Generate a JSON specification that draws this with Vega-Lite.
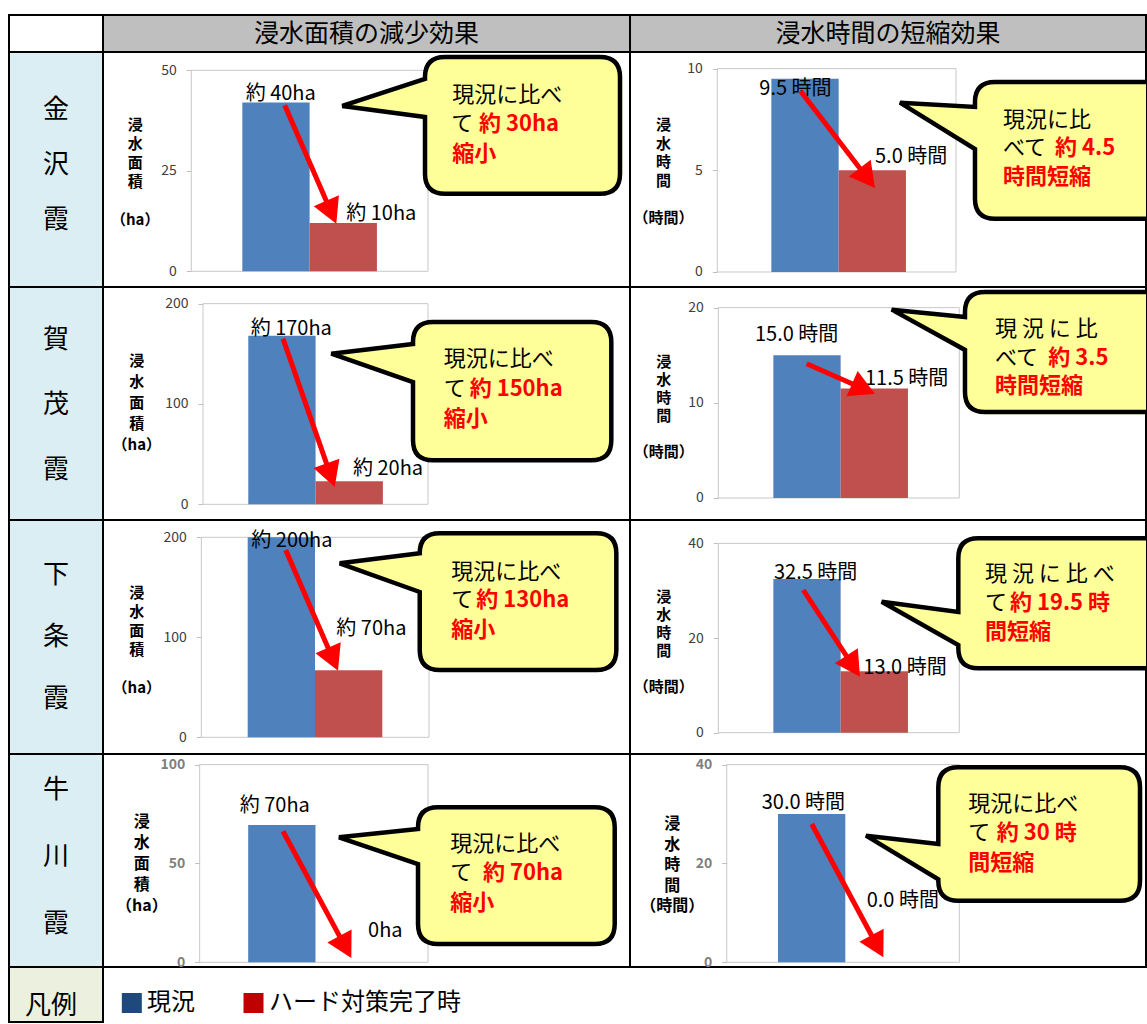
{
"$schema": "https://vega.github.io/schema/vega-lite/v6.json",
"padding": {"left": 8, "top": 14, "right": 0, "bottom": 0},
"background": "white",
"datasets": {"bars": [
{"region":"金沢霞","metric":"浸水面積","scenario":"現況","value":42,"label":"約 40ha"},
{"region":"金沢霞","metric":"浸水面積","scenario":"ハード対策完了時","value":12,"label":"約 10ha"},
{"region":"金沢霞","metric":"浸水時間","scenario":"現況","value":9.5,"label":"9.5 時間"},
{"region":"金沢霞","metric":"浸水時間","scenario":"ハード対策完了時","value":5.0,"label":"5.0 時間"},
{"region":"賀茂霞","metric":"浸水面積","scenario":"現況","value":168,"label":"約 170ha"},
{"region":"賀茂霞","metric":"浸水面積","scenario":"ハード対策完了時","value":23,"label":"約 20ha"},
{"region":"賀茂霞","metric":"浸水時間","scenario":"現況","value":15.0,"label":"15.0 時間"},
{"region":"賀茂霞","metric":"浸水時間","scenario":"ハード対策完了時","value":11.5,"label":"11.5 時間"},
{"region":"下条霞","metric":"浸水面積","scenario":"現況","value":200,"label":"約 200ha"},
{"region":"下条霞","metric":"浸水面積","scenario":"ハード対策完了時","value":67,"label":"約 70ha"},
{"region":"下条霞","metric":"浸水時間","scenario":"現況","value":32.5,"label":"32.5 時間"},
{"region":"下条霞","metric":"浸水時間","scenario":"ハード対策完了時","value":13.0,"label":"13.0 時間"},
{"region":"牛川霞","metric":"浸水面積","scenario":"現況","value":69.5,"label":"約 70ha"},
{"region":"牛川霞","metric":"浸水面積","scenario":"ハード対策完了時","value":0,"label":"0ha"},
{"region":"牛川霞","metric":"浸水時間","scenario":"現況","value":30.0,"label":"30.0 時間"},
{"region":"牛川霞","metric":"浸水時間","scenario":"ハード対策完了時","value":0.0,"label":"0.0 時間"}
]},
"columns": 3,
"spacing": 0,
"bounds": "flush",
"concat": [
 {"width":94,"height":37,"data":{"values":[{}]},"mark":{"type":"text","text":" "},"encoding":{"x":{"datum":0.5,"type":"quantitative","scale":{"domain":[0,1]},"axis":null},"y":{"datum":0.5,"type":"quantitative","scale":{"domain":[0,1]},"axis":null}}},
 {"width":527,"height":37,"view":{"fill":"#BFBFBF"},"data":{"values":[{"title":"浸水面積の減少効果"}]},"mark":{"type":"text","fontSize":25,"color":"#000000"},"encoding":{"x":{"datum":0.5,"type":"quantitative","scale":{"domain":[0,1]},"axis":null},"y":{"datum":0.5,"type":"quantitative","scale":{"domain":[0,1]},"axis":null},"text":{"field":"title"}}},
 {"width":516,"height":37,"view":{"fill":"#BFBFBF"},"data":{"values":[{"title":"浸水時間の短縮効果"}]},"mark":{"type":"text","fontSize":25,"color":"#000000"},"encoding":{"x":{"datum":0.5,"type":"quantitative","scale":{"domain":[0,1]},"axis":null},"y":{"datum":0.5,"type":"quantitative","scale":{"domain":[0,1]},"axis":null},"text":{"field":"title"}}},

 {"width":94,"height":235,"view":{"fill":"#DAEEF3"},"data":{"values":[{}]},"mark":{"type":"text","text":["金","沢","霞"],"fontSize":26,"lineHeight":55,"baseline":"middle","color":"#000000"},"encoding":{"x":{"datum":0.5,"type":"quantitative","scale":{"domain":[0,1]},"axis":null},"y":{"datum":0.753,"type":"quantitative","scale":{"domain":[0,1]},"axis":null}}},
 {"width":527,"height":235,"resolve":{"scale":{"x":"independent"}},"layer":[
  {"data":{"values":[{}]},"mark":{"type":"rect","filled":false,"color":"#C8C8C8","strokeWidth":1},"encoding":{"x":{"datum":-0.758,"type":"quantitative","scale":{"domain":[-2.070,5.761],"nice":false,"zero":false},"axis":null},"x2":{"datum":2.759},"y":{"datum":0,"type":"quantitative"},"y2":{"datum":50}}},
  {"data":{"name":"bars"},"transform":[{"filter":"datum.region === '金沢霞' && datum.metric === '浸水面積'"}],"mark":{"type":"bar"},"encoding":{
   "x":{"field":"metric","type":"nominal","scale":{"paddingInner":0,"paddingOuter":1,"align":0.3381},"axis":null},
   "xOffset":{"field":"scenario","type":"nominal","sort":["現況","ハード対策完了時"],"scale":{"domain":["現況","ハード対策完了時"],"paddingInner":0,"paddingOuter":0.3051}},
   "y":{"field":"value","type":"quantitative","stack":null,"scale":{"domain":[-3.91,54.55],"nice":false,"zero":false},"axis":{"offset":-88.3,"values":[0,25,50],"domain":false,"grid":false,"tickSize":5,"tickColor":"#BFBFBF","tickWidth":1,"labelPadding":10,"labelFontSize":14,"labelColor":"#404040","title":["浸","水","面","積","\u200b","（ha）"],"titleAngle":0,"titleAlign":"center","titleBaseline":"top","titleX":-56.6,"titleY":65,"titleLineHeight":19,"titleFontSize":15,"titleFontWeight":"bold","titleColor":"#000000"}},
   "color":{"field":"scenario","type":"nominal","scale":{"domain":["現況","ハード対策完了時"],"range":["#4F81BD","#C0504D"]},"legend":null}}},
  {"data":{"values":[{}]},"layer":[
   {"data":{"name":"bars"},"transform":[{"filter":"datum.region === '金沢霞' && datum.metric === '浸水面積' && datum.scenario === '現況'"}],"mark":{"type":"text","align":"left","baseline":"alphabetic","fontSize":20,"color":"#000000"},"encoding":{"x":{"datum":0.05,"type":"quantitative","scale":{"domain":[-2.070,5.761],"nice":false,"zero":false},"axis":null},"y":{"datum":42.54,"type":"quantitative"},"text":{"field":"label"}}},
   {"data":{"name":"bars"},"transform":[{"filter":"datum.region === '金沢霞' && datum.metric === '浸水面積' && datum.scenario === 'ハード対策完了時'"}],"mark":{"type":"text","align":"left","baseline":"alphabetic","fontSize":20,"color":"#000000"},"encoding":{"x":{"datum":1.545,"type":"quantitative","scale":{"domain":[-2.070,5.761]},"axis":null},"y":{"datum":12.69,"type":"quantitative"},"text":{"field":"label"}}},
   {"mark":{"type":"rule","color":"#FF0000","strokeWidth":5},"encoding":{"x":{"datum":0.630,"type":"quantitative","scale":{"domain":[-2.070,5.761]},"axis":null},"y":{"datum":41.29,"type":"quantitative"},"x2":{"datum":1.325},"y2":{"datum":14.58}}},
   {"mark":{"type":"point","shape":"M0,0L-1.1,2L1.1,2Z","size":625,"filled":true,"color":"#FF0000","opacity":1,"strokeWidth":0,"angle":156.45},"encoding":{"x":{"datum":1.397,"type":"quantitative","scale":{"domain":[-2.070,5.761]},"axis":null},"y":{"datum":11.84,"type":"quantitative"}}},
   {"mark":{"type":"point","shape":"M20,0H175Q195,0 195,20V116.7Q195,136.7 175,136.7H20Q0,136.7 0,116.7V60L-82.7,49L0,22V20Q0,0 20,0Z","size":4,"filled":true,"fill":"#FFFF99","stroke":"#000000","strokeWidth":4.5,"opacity":1},"encoding":{"x":{"datum":2.715,"type":"quantitative","scale":{"domain":[-2.070,5.761]},"axis":null},"y":{"datum":53.31,"type":"quantitative"}}},
   {"mark":{"type":"text","text":"現況に比べ","align":"left","baseline":"middle","fontSize":22,"color":"#000000"},"encoding":{"x":{"datum":3.120,"type":"quantitative","scale":{"domain":[-2.070,5.761]},"axis":null},"y":{"datum":43.86,"type":"quantitative"}}},
   {"mark":{"type":"text","text":"て","align":"left","baseline":"middle","fontSize":22,"color":"#000000"},"encoding":{"x":{"datum":3.105,"type":"quantitative","scale":{"domain":[-2.070,5.761]},"axis":null},"y":{"datum":36.57,"type":"quantitative"}}},
   {"mark":{"type":"text","text":"約 30ha","align":"left","baseline":"middle","fontSize":22,"fontWeight":"bold","color":"#FF0000"},"encoding":{"x":{"datum":3.517,"type":"quantitative","scale":{"domain":[-2.070,5.761]},"axis":null},"y":{"datum":36.57,"type":"quantitative"}}},
   {"mark":{"type":"text","text":"縮小","align":"left","baseline":"middle","fontSize":22,"fontWeight":"bold","color":"#FF0000"},"encoding":{"x":{"datum":3.120,"type":"quantitative","scale":{"domain":[-2.070,5.761]},"axis":null},"y":{"datum":29.30,"type":"quantitative"}}}
  ]}
 ]},
 {"width":516,"height":235,"resolve":{"scale":{"x":"independent"}},"layer":[
  {"data":{"values":[{}]},"mark":{"type":"rect","filled":false,"color":"#C8C8C8","strokeWidth":1},"encoding":{"x":{"datum":-0.750,"type":"quantitative","scale":{"domain":[-2.028,5.527],"nice":false,"zero":false},"axis":null},"x2":{"datum":2.745},"y":{"datum":0,"type":"quantitative"},"y2":{"datum":10}}},
  {"data":{"name":"bars"},"transform":[{"filter":"datum.region === '金沢霞' && datum.metric === '浸水時間'"}],"mark":{"type":"bar"},"encoding":{
   "x":{"field":"metric","type":"nominal","scale":{"paddingInner":0,"paddingOuter":1,"align":0.3512},"axis":null},
   "xOffset":{"field":"scenario","type":"nominal","sort":["現況","ハード対策完了時"],"scale":{"domain":["現況","ハード対策完了時"],"paddingInner":0,"paddingOuter":0.2592}},
   "y":{"field":"value","type":"quantitative","stack":null,"scale":{"domain":[-0.738,10.82],"nice":false,"zero":false},"axis":{"offset":-87.3,"values":[0,5,10],"domain":false,"grid":false,"tickSize":5,"tickColor":"#BFBFBF","tickWidth":1,"labelPadding":10,"labelFontSize":14,"labelColor":"#404040","title":["浸","水","時","間","\u200b","（時間）"],"titleAngle":0,"titleAlign":"center","titleBaseline":"top","titleX":-54.3,"titleY":65.5,"titleLineHeight":18.5,"titleFontSize":15,"titleFontWeight":"bold","titleColor":"#000000"}},
   "color":{"field":"scenario","type":"nominal","scale":{"domain":["現況","ハード対策完了時"],"range":["#4F81BD","#C0504D"]},"legend":null}}},
  {"data":{"values":[{}]},"layer":[
   {"data":{"name":"bars"},"transform":[{"filter":"datum.region === '金沢霞' && datum.metric === '浸水時間' && datum.scenario === '現況'"}],"mark":{"type":"text","align":"left","baseline":"alphabetic","fontSize":20,"color":"#000000"},"encoding":{"x":{"datum":-0.135,"type":"quantitative","scale":{"domain":[-2.028,5.527],"nice":false,"zero":false},"axis":null},"y":{"datum":8.72,"type":"quantitative"},"text":{"field":"label"}}},
   {"data":{"name":"bars"},"transform":[{"filter":"datum.region === '金沢霞' && datum.metric === '浸水時間' && datum.scenario === 'ハード対策完了時'"}],"mark":{"type":"text","align":"left","baseline":"alphabetic","fontSize":20,"color":"#000000"},"encoding":{"x":{"datum":1.559,"type":"quantitative","scale":{"domain":[-2.028,5.527]},"axis":null},"y":{"datum":5.36,"type":"quantitative"},"text":{"field":"label"}}},
   {"mark":{"type":"rule","color":"#FF0000","strokeWidth":5},"encoding":{"x":{"datum":0.471,"type":"quantitative","scale":{"domain":[-2.028,5.527]},"axis":null},"y":{"datum":8.888,"type":"quantitative"},"x2":{"datum":1.452},"y2":{"datum":4.599}}},
   {"mark":{"type":"point","shape":"M0,0L-1.1,2L1.1,2Z","size":625,"filled":true,"color":"#FF0000","opacity":1,"strokeWidth":0,"angle":142.46},"encoding":{"x":{"datum":1.559,"type":"quantitative","scale":{"domain":[-2.028,5.527]},"axis":null},"y":{"datum":4.132,"type":"quantitative"}}},
   {"mark":{"type":"point","clip":true,"shape":"M20,0H175Q195,0 195,20V116.7Q195,136.7 175,136.7H20Q0,136.7 0,116.7V67L-75,20.7L0,25V20Q0,0 20,0Z","size":4,"filled":true,"fill":"#FFFF99","stroke":"#000000","strokeWidth":4.5,"opacity":1},"encoding":{"x":{"datum":3.023,"type":"quantitative","scale":{"domain":[-2.028,5.527]},"axis":null},"y":{"datum":9.346,"type":"quantitative"}}},
   {"mark":{"type":"text","text":"現況に比","align":"left","baseline":"middle","fontSize":22,"color":"#000000"},"encoding":{"x":{"datum":3.433,"type":"quantitative","scale":{"domain":[-2.028,5.527]},"axis":null},"y":{"datum":7.477,"type":"quantitative"}}},
   {"mark":{"type":"text","text":"べて","align":"left","baseline":"middle","fontSize":22,"color":"#000000"},"encoding":{"x":{"datum":3.433,"type":"quantitative","scale":{"domain":[-2.028,5.527]},"axis":null},"y":{"datum":6.080,"type":"quantitative"}}},
   {"mark":{"type":"text","text":"約 4.5","align":"left","baseline":"middle","fontSize":22,"fontWeight":"bold","color":"#FF0000"},"encoding":{"x":{"datum":4.196,"type":"quantitative","scale":{"domain":[-2.028,5.527]},"axis":null},"y":{"datum":6.080,"type":"quantitative"}}},
   {"mark":{"type":"text","text":"時間短縮","align":"left","baseline":"middle","fontSize":22,"fontWeight":"bold","color":"#FF0000"},"encoding":{"x":{"datum":3.433,"type":"quantitative","scale":{"domain":[-2.028,5.527]},"axis":null},"y":{"datum":4.648,"type":"quantitative"}}}
  ]}
 ]},

 {"width":94,"height":233,"view":{"fill":"#DAEEF3"},"data":{"values":[{}]},"mark":{"type":"text","text":["賀","茂","霞"],"fontSize":26,"lineHeight":65,"baseline":"middle","color":"#000000"},"encoding":{"x":{"datum":0.5,"type":"quantitative","scale":{"domain":[0,1]},"axis":null},"y":{"datum":0.7725,"type":"quantitative","scale":{"domain":[0,1]},"axis":null}}},
 {"width":527,"height":233,"resolve":{"scale":{"x":"independent"}},"layer":[
  {"data":{"values":[{}]},"mark":{"type":"rect","filled":false,"color":"#C8C8C8","strokeWidth":1},"encoding":{"x":{"datum":-0.743,"type":"quantitative","scale":{"domain":[-2.291,5.867],"nice":false,"zero":false},"axis":null},"x2":{"datum":2.740},"y":{"datum":0,"type":"quantitative"},"y2":{"datum":200}}},
  {"data":{"name":"bars"},"transform":[{"filter":"datum.region === '賀茂霞' && datum.metric === '浸水面積'"}],"mark":{"type":"bar"},"encoding":{
   "x":{"field":"metric","type":"nominal","scale":{"paddingInner":0,"paddingOuter":1,"align":0.3551},"axis":null},
   "xOffset":{"field":"scenario","type":"nominal","sort":["現況","ハード対策完了時"],"scale":{"domain":["現況","ハード対策完了時"],"paddingInner":0,"paddingOuter":0.3597}},
   "y":{"field":"value","type":"quantitative","stack":null,"scale":{"domain":[-15.65,216.6],"nice":false,"zero":false},"axis":{"offset":-100,"values":[0,100,200],"domain":false,"grid":false,"tickSize":5,"tickColor":"#BFBFBF","tickWidth":1,"labelPadding":10,"labelFontSize":14,"labelColor":"#404040","title":["浸","水","面","積","（ha）"],"titleAngle":0,"titleAlign":"center","titleBaseline":"top","titleX":-66.7,"titleY":66,"titleLineHeight":21,"titleFontSize":15,"titleFontWeight":"bold","titleColor":"#000000"}},
   "color":{"field":"scenario","type":"nominal","scale":{"domain":["現況","ハード対策完了時"],"range":["#4F81BD","#C0504D"]},"legend":null}}},
  {"data":{"values":[{}]},"layer":[
   {"data":{"name":"bars"},"transform":[{"filter":"datum.region === '賀茂霞' && datum.metric === '浸水面積' && datum.scenario === '現況'"}],"mark":{"type":"text","align":"left","baseline":"alphabetic","fontSize":20,"color":"#000000"},"encoding":{"x":{"datum":-0.005,"type":"quantitative","scale":{"domain":[-2.291,5.867],"nice":false,"zero":false},"axis":null},"y":{"datum":169.0,"type":"quantitative"},"text":{"field":"label"}}},
   {"data":{"name":"bars"},"transform":[{"filter":"datum.region === '賀茂霞' && datum.metric === '浸水面積' && datum.scenario === 'ハード対策完了時'"}],"mark":{"type":"text","align":"left","baseline":"alphabetic","fontSize":20,"color":"#000000"},"encoding":{"x":{"datum":1.579,"type":"quantitative","scale":{"domain":[-2.291,5.867]},"axis":null},"y":{"datum":28.9,"type":"quantitative"},"text":{"field":"label"}}},
   {"mark":{"type":"rule","color":"#FF0000","strokeWidth":5},"encoding":{"x":{"datum":0.495,"type":"quantitative","scale":{"domain":[-2.291,5.867]},"axis":null},"y":{"datum":165.1,"type":"quantitative"},"x2":{"datum":1.2345},"y2":{"datum":28.54}}},
   {"mark":{"type":"point","shape":"M0,0L-1.1,2L1.1,2Z","size":625,"filled":true,"color":"#FF0000","opacity":1,"strokeWidth":0,"angle":160.78},"encoding":{"x":{"datum":1.296,"type":"quantitative","scale":{"domain":[-2.291,5.867]},"axis":null},"y":{"datum":17.24,"type":"quantitative"}}},
   {"mark":{"type":"point","shape":"M20,0H178.3Q198.3,0 198.3,20V118.3Q198.3,138.3 178.3,138.3H20Q0,138.3 0,118.3V60L-81.7,31.7L0,22V20Q0,0 20,0Z","size":4,"filled":true,"fill":"#FFFF99","stroke":"#000000","strokeWidth":4.5,"opacity":1},"encoding":{"x":{"datum":2.508,"type":"quantitative","scale":{"domain":[-2.291,5.867]},"axis":null},"y":{"datum":181.7,"type":"quantitative"}}},
   {"mark":{"type":"text","text":"現況に比べ","align":"left","baseline":"middle","fontSize":22,"color":"#000000"},"encoding":{"x":{"datum":2.983,"type":"quantitative","scale":{"domain":[-2.291,5.867]},"axis":null},"y":{"datum":144.5,"type":"quantitative"}}},
   {"mark":{"type":"text","text":"て","align":"left","baseline":"middle","fontSize":22,"color":"#000000"},"encoding":{"x":{"datum":2.983,"type":"quantitative","scale":{"domain":[-2.291,5.867]},"axis":null},"y":{"datum":115.4,"type":"quantitative"}}},
   {"mark":{"type":"text","text":"約 150ha","align":"left","baseline":"middle","fontSize":22,"fontWeight":"bold","color":"#FF0000"},"encoding":{"x":{"datum":3.385,"type":"quantitative","scale":{"domain":[-2.291,5.867]},"axis":null},"y":{"datum":115.4,"type":"quantitative"}}},
   {"mark":{"type":"text","text":"縮小","align":"left","baseline":"middle","fontSize":22,"fontWeight":"bold","color":"#FF0000"},"encoding":{"x":{"datum":2.983,"type":"quantitative","scale":{"domain":[-2.291,5.867]},"axis":null},"y":{"datum":85.5,"type":"quantitative"}}}
  ]}
 ]},
 {"width":516,"height":233,"resolve":{"scale":{"x":"independent"}},"layer":[
  {"data":{"values":[{}]},"mark":{"type":"rect","filled":false,"color":"#C8C8C8","strokeWidth":1},"encoding":{"x":{"datum":-0.751,"type":"quantitative","scale":{"domain":[-2.035,5.465],"nice":false,"zero":false},"axis":null},"x2":{"datum":2.751},"y":{"datum":0,"type":"quantitative"},"y2":{"datum":20}}},
  {"data":{"name":"bars"},"transform":[{"filter":"datum.region === '賀茂霞' && datum.metric === '浸水時間'"}],"mark":{"type":"bar"},"encoding":{
   "x":{"field":"metric","type":"nominal","scale":{"paddingInner":0,"paddingOuter":1,"align":0.3570},"axis":null},
   "xOffset":{"field":"scenario","type":"nominal","sort":["現況","ハード対策完了時"],"scale":{"domain":["現況","ハード対策完了時"],"paddingInner":0,"paddingOuter":0.25}},
   "y":{"field":"value","type":"quantitative","stack":null,"scale":{"domain":[-2.312,22.17],"nice":false,"zero":false},"axis":{"offset":-88.3,"values":[0,10,20],"domain":false,"grid":false,"tickSize":5,"tickColor":"#BFBFBF","tickWidth":1,"labelPadding":10,"labelFontSize":14,"labelColor":"#404040","title":["浸","水","時","間","\u200b","（時間）"],"titleAngle":0,"titleAlign":"center","titleBaseline":"top","titleX":-55,"titleY":67.5,"titleLineHeight":18,"titleFontSize":15,"titleFontWeight":"bold","titleColor":"#000000"}},
   "color":{"field":"scenario","type":"nominal","scale":{"domain":["現況","ハード対策完了時"],"range":["#4F81BD","#C0504D"]},"legend":null}}},
  {"data":{"values":[{}]},"layer":[
   {"data":{"name":"bars"},"transform":[{"filter":"datum.region === '賀茂霞' && datum.metric === '浸水時間' && datum.scenario === '現況'"}],"mark":{"type":"text","align":"left","baseline":"alphabetic","fontSize":20,"color":"#000000"},"encoding":{"x":{"datum":-0.218,"type":"quantitative","scale":{"domain":[-2.035,5.465],"nice":false,"zero":false},"axis":null},"y":{"datum":16.47,"type":"quantitative"},"text":{"field":"label"}}},
   {"data":{"name":"bars"},"transform":[{"filter":"datum.region === '賀茂霞' && datum.metric === '浸水時間' && datum.scenario === 'ハード対策完了時'"}],"mark":{"type":"text","align":"left","baseline":"alphabetic","fontSize":20,"color":"#000000"},"encoding":{"x":{"datum":1.381,"type":"quantitative","scale":{"domain":[-2.035,5.465]},"axis":null},"y":{"datum":11.91,"type":"quantitative"},"text":{"field":"label"}}},
   {"mark":{"type":"rule","color":"#FF0000","strokeWidth":5},"encoding":{"x":{"datum":0.533,"type":"quantitative","scale":{"domain":[-2.035,5.465]},"axis":null},"y":{"datum":14.11,"type":"quantitative"},"x2":{"datum":1.366},"y2":{"datum":11.46}}},
   {"mark":{"type":"point","shape":"M0,0L-1.1,2L1.1,2Z","size":625,"filled":true,"color":"#FF0000","opacity":1,"strokeWidth":0,"angle":113.71},"encoding":{"x":{"datum":1.526,"type":"quantitative","scale":{"domain":[-2.035,5.465]},"axis":null},"y":{"datum":10.96,"type":"quantitative"}}},
   {"mark":{"type":"point","clip":true,"shape":"M20,0H185Q205,0 205,20V100Q205,120 185,120H20Q0,120 0,100V58L-73.3,17.7L0,25V20Q0,0 20,0Z","size":4,"filled":true,"fill":"#FFFF99","stroke":"#000000","strokeWidth":4.5,"opacity":1},"encoding":{"x":{"datum":2.834,"type":"quantitative","scale":{"domain":[-2.035,5.465]},"axis":null},"y":{"datum":21.65,"type":"quantitative"}}},
   {"mark":{"type":"text","text":"現 況 に 比","align":"left","baseline":"middle","fontSize":22,"color":"#000000"},"encoding":{"x":{"datum":3.270,"type":"quantitative","scale":{"domain":[-2.035,5.465]},"axis":null},"y":{"datum":17.73,"type":"quantitative"}}},
   {"mark":{"type":"text","text":"べて","align":"left","baseline":"middle","fontSize":22,"color":"#000000"},"encoding":{"x":{"datum":3.270,"type":"quantitative","scale":{"domain":[-2.035,5.465]},"axis":null},"y":{"datum":14.66,"type":"quantitative"}}},
   {"mark":{"type":"text","text":"約 3.5","align":"left","baseline":"middle","fontSize":22,"fontWeight":"bold","color":"#FF0000"},"encoding":{"x":{"datum":4.045,"type":"quantitative","scale":{"domain":[-2.035,5.465]},"axis":null},"y":{"datum":14.66,"type":"quantitative"}}},
   {"mark":{"type":"text","text":"時間短縮","align":"left","baseline":"middle","fontSize":22,"fontWeight":"bold","color":"#FF0000"},"encoding":{"x":{"datum":3.270,"type":"quantitative","scale":{"domain":[-2.035,5.465]},"axis":null},"y":{"datum":11.77,"type":"quantitative"}}}
  ]}
 ]},

 {"width":94,"height":234,"view":{"fill":"#DAEEF3"},"data":{"values":[{}]},"mark":{"type":"text","text":["下","条","霞"],"fontSize":26,"lineHeight":62,"baseline":"middle","color":"#000000"},"encoding":{"x":{"datum":0.5,"type":"quantitative","scale":{"domain":[0,1]},"axis":null},"y":{"datum":0.765,"type":"quantitative","scale":{"domain":[0,1]},"axis":null}}},
 {"width":527,"height":234,"resolve":{"scale":{"x":"independent"}},"layer":[
  {"data":{"values":[{}]},"mark":{"type":"rect","filled":false,"color":"#C8C8C8","strokeWidth":1},"encoding":{"x":{"datum":-0.749,"type":"quantitative","scale":{"domain":[-2.262,5.846],"nice":false,"zero":false},"axis":null},"x2":{"datum":2.754},"y":{"datum":0,"type":"quantitative"},"y2":{"datum":200}}},
  {"data":{"name":"bars"},"transform":[{"filter":"datum.region === '下条霞' && datum.metric === '浸水面積'"}],"mark":{"type":"bar"},"encoding":{
   "x":{"field":"metric","type":"nominal","scale":{"paddingInner":0,"paddingOuter":1,"align":0.3534},"axis":null},
   "xOffset":{"field":"scenario","type":"nominal","sort":["現況","ハード対策完了時"],"scale":{"domain":["現況","ハード対策完了時"],"paddingInner":0,"paddingOuter":0.3513}},
   "y":{"field":"value","type":"quantitative","stack":null,"scale":{"domain":[-16.7,217.3],"nice":false,"zero":false},"axis":{"offset":-98.3,"values":[0,100,200],"domain":false,"grid":false,"tickSize":5,"tickColor":"#BFBFBF","tickWidth":1,"labelPadding":10,"labelFontSize":14,"labelColor":"#404040","title":["浸","水","面","積","\u200b","（ha）"],"titleAngle":0,"titleAlign":"center","titleBaseline":"top","titleX":-65,"titleY":65.5,"titleLineHeight":19,"titleFontSize":15,"titleFontWeight":"bold","titleColor":"#000000"}},
   "color":{"field":"scenario","type":"nominal","scale":{"domain":["現況","ハード対策完了時"],"range":["#4F81BD","#C0504D"]},"legend":null}}},
  {"data":{"values":[{}]},"layer":[
   {"data":{"name":"bars"},"transform":[{"filter":"datum.region === '下条霞' && datum.metric === '浸水面積' && datum.scenario === '現況'"}],"mark":{"type":"text","align":"left","baseline":"alphabetic","fontSize":20,"color":"#000000"},"encoding":{"x":{"datum":0.02,"type":"quantitative","scale":{"domain":[-2.262,5.846],"nice":false,"zero":false},"axis":null},"y":{"datum":190.6,"type":"quantitative"},"text":{"field":"label"}}},
   {"data":{"name":"bars"},"transform":[{"filter":"datum.region === '下条霞' && datum.metric === '浸水面積' && datum.scenario === 'ハード対策完了時'"}],"mark":{"type":"text","align":"left","baseline":"alphabetic","fontSize":20,"color":"#000000"},"encoding":{"x":{"datum":1.328,"type":"quantitative","scale":{"domain":[-2.262,5.846]},"axis":null},"y":{"datum":102.3,"type":"quantitative"},"text":{"field":"label"}}},
   {"mark":{"type":"rule","color":"#FF0000","strokeWidth":5},"encoding":{"x":{"datum":0.549,"type":"quantitative","scale":{"domain":[-2.262,5.846]},"axis":null},"y":{"datum":187.3,"type":"quantitative"},"x2":{"datum":1.280},"y2":{"datum":77.6}}},
   {"mark":{"type":"point","shape":"M0,0L-1.1,2L1.1,2Z","size":625,"filled":true,"color":"#FF0000","opacity":1,"strokeWidth":0,"angle":156.57},"encoding":{"x":{"datum":1.354,"type":"quantitative","scale":{"domain":[-2.262,5.846]},"axis":null},"y":{"datum":66.6,"type":"quantitative"}}},
   {"mark":{"type":"point","shape":"M20,0H176.6Q196.6,0 196.6,20V116.7Q196.6,136.7 176.6,136.7H20Q0,136.7 0,116.7V58.7L-80,30L0,20Q0,0 20,0Z","size":4,"filled":true,"fill":"#FFFF99","stroke":"#000000","strokeWidth":4.5,"opacity":1},"encoding":{"x":{"datum":2.611,"type":"quantitative","scale":{"domain":[-2.262,5.846]},"axis":null},"y":{"datum":204,"type":"quantitative"}}},
   {"mark":{"type":"text","text":"現況に比べ","align":"left","baseline":"middle","fontSize":22,"color":"#000000"},"encoding":{"x":{"datum":3.097,"type":"quantitative","scale":{"domain":[-2.262,5.846]},"axis":null},"y":{"datum":165.8,"type":"quantitative"}}},
   {"mark":{"type":"text","text":"て","align":"left","baseline":"middle","fontSize":22,"color":"#000000"},"encoding":{"x":{"datum":3.097,"type":"quantitative","scale":{"domain":[-2.262,5.846]},"axis":null},"y":{"datum":137.8,"type":"quantitative"}}},
   {"mark":{"type":"text","text":"約 130ha","align":"left","baseline":"middle","fontSize":22,"fontWeight":"bold","color":"#FF0000"},"encoding":{"x":{"datum":3.482,"type":"quantitative","scale":{"domain":[-2.262,5.846]},"axis":null},"y":{"datum":137.8,"type":"quantitative"}}},
   {"mark":{"type":"text","text":"縮小","align":"left","baseline":"middle","fontSize":22,"fontWeight":"bold","color":"#FF0000"},"encoding":{"x":{"datum":3.097,"type":"quantitative","scale":{"domain":[-2.262,5.846]},"axis":null},"y":{"datum":107.8,"type":"quantitative"}}}
  ]}
 ]},
 {"width":516,"height":234,"resolve":{"scale":{"x":"independent"}},"layer":[
  {"data":{"values":[{}]},"mark":{"type":"rect","filled":false,"color":"#C8C8C8","strokeWidth":1},"encoding":{"x":{"datum":-0.751,"type":"quantitative","scale":{"domain":[-2.035,5.465],"nice":false,"zero":false},"axis":null},"x2":{"datum":2.751},"y":{"datum":0,"type":"quantitative"},"y2":{"datum":40}}},
  {"data":{"name":"bars"},"transform":[{"filter":"datum.region === '下条霞' && datum.metric === '浸水時間'"}],"mark":{"type":"bar"},"encoding":{
   "x":{"field":"metric","type":"nominal","scale":{"paddingInner":0,"paddingOuter":1,"align":0.3570},"axis":null},
   "xOffset":{"field":"scenario","type":"nominal","sort":["現況","ハード対策完了時"],"scale":{"domain":["現況","ハード対策完了時"],"paddingInner":0,"paddingOuter":0.25}},
   "y":{"field":"value","type":"quantitative","stack":null,"scale":{"domain":[-4.50,44.94],"nice":false,"zero":false},"axis":{"offset":-88.3,"values":[0,20,40],"domain":false,"grid":false,"tickSize":5,"tickColor":"#BFBFBF","tickWidth":1,"labelPadding":10,"labelFontSize":14,"labelColor":"#404040","title":["浸","水","時","間","\u200b","（時間）"],"titleAngle":0,"titleAlign":"center","titleBaseline":"top","titleX":-55,"titleY":69.5,"titleLineHeight":18,"titleFontSize":15,"titleFontWeight":"bold","titleColor":"#000000"}},
   "color":{"field":"scenario","type":"nominal","scale":{"domain":["現況","ハード対策完了時"],"range":["#4F81BD","#C0504D"]},"legend":null}}},
  {"data":{"values":[{}]},"layer":[
   {"data":{"name":"bars"},"transform":[{"filter":"datum.region === '下条霞' && datum.metric === '浸水時間' && datum.scenario === '現況'"}],"mark":{"type":"text","align":"left","baseline":"alphabetic","fontSize":20,"color":"#000000"},"encoding":{"x":{"datum":0.058,"type":"quantitative","scale":{"domain":[-2.035,5.465],"nice":false,"zero":false},"axis":null},"y":{"datum":32.41,"type":"quantitative"},"text":{"field":"label"}}},
   {"data":{"name":"bars"},"transform":[{"filter":"datum.region === '下条霞' && datum.metric === '浸水時間' && datum.scenario === 'ハード対策完了時'"}],"mark":{"type":"text","align":"left","baseline":"alphabetic","fontSize":20,"color":"#000000"},"encoding":{"x":{"datum":1.356,"type":"quantitative","scale":{"domain":[-2.035,5.465]},"axis":null},"y":{"datum":12.40,"type":"quantitative"},"text":{"field":"label"}}},
   {"mark":{"type":"rule","color":"#FF0000","strokeWidth":5},"encoding":{"x":{"datum":0.484,"type":"quantitative","scale":{"domain":[-2.035,5.465]},"axis":null},"y":{"datum":30.15,"type":"quantitative"},"x2":{"datum":1.212},"y2":{"datum":13.94}}},
   {"mark":{"type":"point","shape":"M0,0L-1.1,2L1.1,2Z","size":625,"filled":true,"color":"#FF0000","opacity":1,"strokeWidth":0,"angle":146.82},"encoding":{"x":{"datum":1.308,"type":"quantitative","scale":{"domain":[-2.035,5.465]},"axis":null},"y":{"datum":11.83,"type":"quantitative"}}},
   {"mark":{"type":"point","clip":true,"shape":"M20,0H191.7Q211.7,0 211.7,20V110Q211.7,130 191.7,130H20Q0,130 0,110V106.7L-76.6,63.4L0,73.7V20Q0,0 20,0Z","size":4,"filled":true,"fill":"#FFFF99","stroke":"#000000","strokeWidth":4.5,"opacity":1},"encoding":{"x":{"datum":2.737,"type":"quantitative","scale":{"domain":[-2.035,5.465]},"axis":null},"y":{"datum":41.07,"type":"quantitative"}}},
   {"mark":{"type":"text","text":"現 況 に 比 べ","align":"left","baseline":"middle","fontSize":22,"color":"#000000"},"encoding":{"x":{"datum":3.125,"type":"quantitative","scale":{"domain":[-2.035,5.465]},"axis":null},"y":{"datum":33.53,"type":"quantitative"}}},
   {"mark":{"type":"text","text":"て","align":"left","baseline":"middle","fontSize":22,"color":"#000000"},"encoding":{"x":{"datum":3.125,"type":"quantitative","scale":{"domain":[-2.035,5.465]},"axis":null},"y":{"datum":27.36,"type":"quantitative"}}},
   {"mark":{"type":"text","text":"約 19.5 時","align":"left","baseline":"middle","fontSize":22,"fontWeight":"bold","color":"#FF0000"},"encoding":{"x":{"datum":3.488,"type":"quantitative","scale":{"domain":[-2.035,5.465]},"axis":null},"y":{"datum":27.36,"type":"quantitative"}}},
   {"mark":{"type":"text","text":"間短縮","align":"left","baseline":"middle","fontSize":22,"fontWeight":"bold","color":"#FF0000"},"encoding":{"x":{"datum":3.125,"type":"quantitative","scale":{"domain":[-2.035,5.465]},"axis":null},"y":{"datum":21.38,"type":"quantitative"}}}
  ]}
 ]},

 {"width":94,"height":213,"view":{"fill":"#DAEEF3"},"data":{"values":[{}]},"mark":{"type":"text","text":["牛","川","霞"],"fontSize":26,"lineHeight":67,"baseline":"middle","color":"#000000"},"encoding":{"x":{"datum":0.5,"type":"quantitative","scale":{"domain":[0,1]},"axis":null},"y":{"datum":0.831,"type":"quantitative","scale":{"domain":[0,1]},"axis":null}}},
 {"width":527,"height":213,"resolve":{"scale":{"x":"independent"}},"layer":[
  {"data":{"values":[{}]},"mark":{"type":"rect","filled":false,"color":"#C8C8C8","strokeWidth":1},"encoding":{"x":{"datum":-0.782,"type":"quantitative","scale":{"domain":[-2.269,5.838],"nice":false,"zero":false},"axis":null},"x2":{"datum":2.731},"y":{"datum":0,"type":"quantitative"},"y2":{"datum":100}}},
  {"data":{"name":"bars"},"transform":[{"filter":"datum.region === '牛川霞' && datum.metric === '浸水面積'"}],"mark":{"type":"bar"},"encoding":{
   "x":{"field":"metric","type":"nominal","scale":{"paddingInner":0,"paddingOuter":1,"align":0.3548},"axis":null},
   "xOffset":{"field":"scenario","type":"nominal","sort":["現況","ハード対策完了時"],"scale":{"domain":["現況","ハード対策完了時"],"paddingInner":0,"paddingOuter":0.3513}},
   "y":{"field":"value","type":"quantitative","stack":null,"scale":{"domain":[-2.377,105.36],"nice":false,"zero":false},"axis":{"offset":-96.7,"values":[0,50,100],"domain":false,"grid":false,"tickSize":5,"tickColor":"#BFBFBF","tickWidth":1,"labelPadding":10,"labelFontSize":14,"labelFontWeight":"bold","labelColor":"#7F7F7F","title":["浸","水","面","積","（ha）"],"titleAngle":0,"titleAlign":"center","titleBaseline":"top","titleX":-58.4,"titleY":59.5,"titleLineHeight":21,"titleFontSize":16,"titleFontWeight":"bold","titleColor":"#000000"}},
   "color":{"field":"scenario","type":"nominal","scale":{"domain":["現況","ハード対策完了時"],"range":["#4F81BD","#C0504D"]},"legend":null}}},
  {"data":{"values":[{}]},"layer":[
   {"data":{"name":"bars"},"transform":[{"filter":"datum.region === '牛川霞' && datum.metric === '浸水面積' && datum.scenario === '現況'"}],"mark":{"type":"text","align":"left","baseline":"alphabetic","fontSize":20,"color":"#000000"},"encoding":{"x":{"datum":-0.166,"type":"quantitative","scale":{"domain":[-2.269,5.838],"nice":false,"zero":false},"axis":null},"y":{"datum":75.9,"type":"quantitative"},"text":{"field":"label"}}},
   {"data":{"name":"bars"},"transform":[{"filter":"datum.region === '牛川霞' && datum.metric === '浸水面積' && datum.scenario === 'ハード対策完了時'"}],"mark":{"type":"text","align":"left","baseline":"alphabetic","fontSize":20,"color":"#000000"},"encoding":{"x":{"datum":1.808,"type":"quantitative","scale":{"domain":[-2.269,5.838]},"axis":null},"y":{"datum":12.65,"type":"quantitative"},"text":{"field":"label"}}},
   {"mark":{"type":"rule","color":"#FF0000","strokeWidth":5},"encoding":{"x":{"datum":0.5,"type":"quantitative","scale":{"domain":[-2.269,5.838]},"axis":null},"y":{"datum":66.26,"type":"quantitative"},"x2":{"datum":1.463},"y2":{"datum":7.54}}},
   {"mark":{"type":"point","shape":"M0,0L-1.1,2L1.1,2Z","size":625,"filled":true,"color":"#FF0000","opacity":1,"strokeWidth":0,"angle":151.68},"encoding":{"x":{"datum":1.551,"type":"quantitative","scale":{"domain":[-2.269,5.838]},"axis":null},"y":{"datum":2.175,"type":"quantitative"}}},
   {"mark":{"type":"point","shape":"M20,0H176.7Q196.7,0 196.7,20V116.7Q196.7,136.7 176.7,136.7H20Q0,136.7 0,116.7V56.7L-79,30L0,21.7V20Q0,0 20,0Z","size":4,"filled":true,"fill":"#FFFF99","stroke":"#000000","strokeWidth":4.5,"opacity":1},"encoding":{"x":{"datum":2.577,"type":"quantitative","scale":{"domain":[-2.269,5.838]},"axis":null},"y":{"datum":78.40,"type":"quantitative"}}},
   {"mark":{"type":"text","text":"現況に比べ","align":"left","baseline":"middle","fontSize":22,"color":"#000000"},"encoding":{"x":{"datum":3.074,"type":"quantitative","scale":{"domain":[-2.269,5.838]},"axis":null},"y":{"datum":60.09,"type":"quantitative"}}},
   {"mark":{"type":"text","text":"て","align":"left","baseline":"middle","fontSize":22,"color":"#000000"},"encoding":{"x":{"datum":3.074,"type":"quantitative","scale":{"domain":[-2.269,5.838]},"axis":null},"y":{"datum":44.92,"type":"quantitative"}}},
   {"mark":{"type":"text","text":"約 70ha","align":"left","baseline":"middle","fontSize":22,"fontWeight":"bold","color":"#FF0000"},"encoding":{"x":{"datum":3.577,"type":"quantitative","scale":{"domain":[-2.269,5.838]},"axis":null},"y":{"datum":44.92,"type":"quantitative"}}},
   {"mark":{"type":"text","text":"縮小","align":"left","baseline":"middle","fontSize":22,"fontWeight":"bold","color":"#FF0000"},"encoding":{"x":{"datum":3.074,"type":"quantitative","scale":{"domain":[-2.269,5.838]},"axis":null},"y":{"datum":30.0,"type":"quantitative"}}}
  ]}
 ]},
 {"width":516,"height":213,"resolve":{"scale":{"x":"independent"}},"layer":[
  {"data":{"values":[{}]},"mark":{"type":"rect","filled":false,"color":"#C8C8C8","strokeWidth":1},"encoding":{"x":{"datum":-0.783,"type":"quantitative","scale":{"domain":[-2.260,5.618],"nice":false,"zero":false},"axis":null},"x2":{"datum":2.768},"y":{"datum":0,"type":"quantitative"},"y2":{"datum":40}}},
  {"data":{"name":"bars"},"transform":[{"filter":"datum.region === '牛川霞' && datum.metric === '浸水時間'"}],"mark":{"type":"bar"},"encoding":{
   "x":{"field":"metric","type":"nominal","scale":{"paddingInner":0,"paddingOuter":1,"align":0.3706},"axis":null},
   "xOffset":{"field":"scenario","type":"nominal","sort":["現況","ハード対策完了時"],"scale":{"domain":["現況","ハード対策完了時"],"paddingInner":0,"paddingOuter":0.313}},
   "y":{"field":"value","type":"quantitative","stack":null,"scale":{"domain":[-0.951,42.15],"nice":false,"zero":false},"axis":{"offset":-96.7,"values":[0,20,40],"domain":false,"grid":false,"tickSize":5,"tickColor":"#BFBFBF","tickWidth":1,"labelPadding":10,"labelFontSize":14,"labelFontWeight":"bold","labelColor":"#7F7F7F","title":["浸","水","時","間","（時間）"],"titleAngle":0,"titleAlign":"center","titleBaseline":"top","titleX":-55,"titleY":61.5,"titleLineHeight":20.5,"titleFontSize":16,"titleFontWeight":"bold","titleColor":"#000000"}},
   "color":{"field":"scenario","type":"nominal","scale":{"domain":["現況","ハード対策完了時"],"range":["#4F81BD","#C0504D"]},"legend":null}}},
  {"data":{"values":[{}]},"layer":[
   {"data":{"name":"bars"},"transform":[{"filter":"datum.region === '牛川霞' && datum.metric === '浸水時間' && datum.scenario === '現況'"}],"mark":{"type":"text","align":"left","baseline":"alphabetic","fontSize":20,"color":"#000000"},"encoding":{"x":{"datum":-0.249,"type":"quantitative","scale":{"domain":[-2.260,5.618],"nice":false,"zero":false},"axis":null},"y":{"datum":31.02,"type":"quantitative"},"text":{"field":"label"}}},
   {"data":{"name":"bars"},"transform":[{"filter":"datum.region === '牛川霞' && datum.metric === '浸水時間' && datum.scenario === 'ハード対策完了時'"}],"mark":{"type":"text","align":"left","baseline":"alphabetic","fontSize":20,"color":"#000000"},"encoding":{"x":{"datum":1.354,"type":"quantitative","scale":{"domain":[-2.260,5.618]},"axis":null},"y":{"datum":11.13,"type":"quantitative"},"text":{"field":"label"}}},
   {"mark":{"type":"rule","color":"#FF0000","strokeWidth":5},"encoding":{"x":{"datum":0.515,"type":"quantitative","scale":{"domain":[-2.260,5.618]},"axis":null},"y":{"datum":27.98,"type":"quantitative"},"x2":{"datum":1.521},"y2":{"datum":3.157}}},
   {"mark":{"type":"point","shape":"M0,0L-1.1,2L1.1,2Z","size":625,"filled":true,"color":"#FF0000","opacity":1,"strokeWidth":0,"angle":151.76},"encoding":{"x":{"datum":1.608,"type":"quantitative","scale":{"domain":[-2.260,5.618]},"axis":null},"y":{"datum":1.012,"type":"quantitative"}}},
   {"mark":{"type":"point","shape":"M20,0H181.7Q201.7,0 201.7,20V113.4Q201.7,133.4 181.7,133.4H20Q0,133.4 0,113.4V112L-72.3,68.4L0,76.7V20Q0,0 20,0Z","size":4,"filled":true,"fill":"#FFFF99","stroke":"#000000","strokeWidth":4.5,"opacity":1},"encoding":{"x":{"datum":2.447,"type":"quantitative","scale":{"domain":[-2.260,5.618]},"axis":null},"y":{"datum":39.46,"type":"quantitative"}}},
   {"mark":{"type":"text","text":"現況に比べ","align":"left","baseline":"middle","fontSize":22,"color":"#000000"},"encoding":{"x":{"datum":2.905,"type":"quantitative","scale":{"domain":[-2.260,5.618]},"axis":null},"y":{"datum":32.13,"type":"quantitative"}}},
   {"mark":{"type":"text","text":"て","align":"left","baseline":"middle","fontSize":22,"color":"#000000"},"encoding":{"x":{"datum":2.905,"type":"quantitative","scale":{"domain":[-2.260,5.618]},"axis":null},"y":{"datum":26.07,"type":"quantitative"}}},
   {"mark":{"type":"text","text":"約 30 時","align":"left","baseline":"middle","fontSize":22,"fontWeight":"bold","color":"#FF0000"},"encoding":{"x":{"datum":3.34,"type":"quantitative","scale":{"domain":[-2.260,5.618]},"axis":null},"y":{"datum":26.07,"type":"quantitative"}}},
   {"mark":{"type":"text","text":"間短縮","align":"left","baseline":"middle","fontSize":22,"fontWeight":"bold","color":"#FF0000"},"encoding":{"x":{"datum":2.905,"type":"quantitative","scale":{"domain":[-2.260,5.618]},"axis":null},"y":{"datum":20.09,"type":"quantitative"}}}
  ]}
 ]},

 {"width":94,"height":55,"view":{"fill":"#EBF1DE"},"data":{"values":[{}]},"mark":{"type":"text","text":"凡例","fontSize":26,"baseline":"middle","color":"#000000"},"encoding":{"x":{"datum":0.447,"type":"quantitative","scale":{"domain":[0,1]},"axis":null},"y":{"datum":0.29,"type":"quantitative","scale":{"domain":[0,1]},"axis":null}}},
 {"width":527,"height":55,"view":{"stroke":null},"data":{"values":[{}]},"layer":[
  {"mark":{"type":"point","shape":"square","size":400,"filled":true,"color":"#1F497D","opacity":1,"strokeWidth":0},"encoding":{"x":{"datum":0.0547,"type":"quantitative","scale":{"domain":[0,1]},"axis":null},"y":{"datum":0.345,"type":"quantitative","scale":{"domain":[0,1]},"axis":null}}},
  {"mark":{"type":"text","text":"現況","align":"left","baseline":"middle","fontSize":24,"color":"#000000"},"encoding":{"x":{"datum":0.0835,"type":"quantitative","scale":{"domain":[0,1]},"axis":null},"y":{"datum":0.345,"type":"quantitative","scale":{"domain":[0,1]},"axis":null}}},
  {"mark":{"type":"point","shape":"square","size":400,"filled":true,"color":"#C00000","opacity":1,"strokeWidth":0},"encoding":{"x":{"datum":0.2856,"type":"quantitative","scale":{"domain":[0,1]},"axis":null},"y":{"datum":0.345,"type":"quantitative","scale":{"domain":[0,1]},"axis":null}}},
  {"mark":{"type":"text","text":"ハード対策完了時","align":"left","baseline":"middle","fontSize":24,"color":"#000000"},"encoding":{"x":{"datum":0.315,"type":"quantitative","scale":{"domain":[0,1]},"axis":null},"y":{"datum":0.345,"type":"quantitative","scale":{"domain":[0,1]},"axis":null}}}
 ]},
 {"width":516,"height":55,"view":{"stroke":null},"data":{"values":[{}]},"mark":{"type":"text","text":" "},"encoding":{"x":{"datum":0.5,"type":"quantitative","scale":{"domain":[0,1]},"axis":null},"y":{"datum":0.5,"type":"quantitative","scale":{"domain":[0,1]},"axis":null}}}
],
"config": {"font": "Noto Sans CJK JP", "view": {"stroke": "#000000", "strokeWidth": 2}}
}
